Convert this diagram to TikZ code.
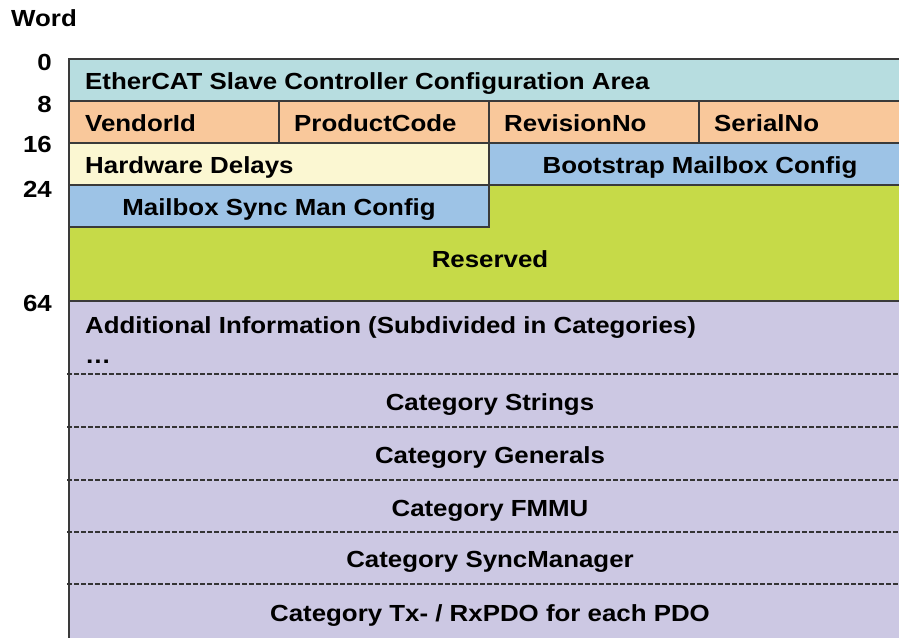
\documentclass[tikz,border=0pt]{standalone}
\usepackage{fontspec}
\setmainfont{Liberation Sans}[FakeStretch=1.11]
\usetikzlibrary{positioning}
\definecolor{edgeGrey}{HTML}{3a3a3a}
\definecolor{escFill}{HTML}{B7DDE0}
\definecolor{idFill}{HTML}{F9C89B}
\definecolor{delayFill}{HTML}{FBF7D2}
\definecolor{mbxFill}{HTML}{9DC3E6}
\definecolor{resFill}{HTML}{C6DA48}
\definecolor{catFill}{HTML}{CCC8E3}
\def\boxL{69}
\def\boxR{911}
\def\boxMid{489}

\begin{document}
\begin{tikzpicture}[
    x=1pt, y=-1pt,
    every node/.style={font=\fontsize{23.3}{30}\selectfont\bfseries, inner sep=0pt},
    cell/.style={draw=edgeGrey, line width=1.5pt},
    sep/.style={draw=edgeGrey!90!black, line width=1.4pt, dash pattern=on 4.5pt off 2.5pt},
    wordlbl/.style={anchor=base east},
    lefttxt/.style={anchor=base west},
    midtxt/.style={anchor=base},
    ]
\useasboundingbox (0,0) rectangle (899,637);
\clip (0,0) rectangle (899,637);

% ====================================================================
% Fills
% ====================================================================
\fill[escFill]   (\boxL,59)    rectangle (\boxR,101);
\fill[idFill]    (\boxL,101)   rectangle (\boxR,143);
\fill[delayFill] (\boxL,143)   rectangle (\boxMid,185);
\fill[mbxFill]   (\boxMid,143) rectangle (\boxR,185);
\fill[resFill]   (\boxL,185)   rectangle (\boxR,301);
\fill[mbxFill]   (\boxL,185)   rectangle (\boxMid,227);
\fill[catFill]   (\boxL,301)   rectangle (\boxR,650);

% ====================================================================
% Borders
% ====================================================================
\draw[cell] (\boxR,59) -- (\boxL,59) -- (\boxL,650);
\foreach \y in {101,143,185,301}
  \draw[cell] (\boxL,\y) -- (\boxR,\y);
\foreach \x in {279,489,699}
  \draw[cell] (\x,101) -- (\x,143);
\draw[cell] (\boxMid,143) -- (\boxMid,227) -- (\boxL,227);

% category separators
\foreach \y in {374,427,480,532,584}
  \draw[sep] (67,\y) -- (\boxR,\y);

% ====================================================================
% Word offsets
% ====================================================================
\node[lefttxt] (word) at (11,27) {Word};
\node[wordlbl] (w0)  at (52,70)  {0};
\node[wordlbl] (w8)  at (52,112) {8};
\node[wordlbl] (w16) at (52,152) {16};
\node[wordlbl] (w24) at (52,197) {24};
\node[wordlbl] (w64) at (52,311) {64};

% ====================================================================
% Header area
% ====================================================================
\node[lefttxt] (esc) at (85,89) {EtherCAT Slave Controller Configuration Area};
\node[lefttxt] (vendor)   at (85,131)  {VendorId};
\node[lefttxt] (product)  at (294,131) {ProductCode};
\node[lefttxt] (revision) at (504,131) {RevisionNo};
\node[lefttxt] (serial)   at (714,131) {SerialNo};
\node[lefttxt] (hwdelay)  at (85,173)  {Hardware Delays};
\node[midtxt]  (bootmbx)  at ({(\boxMid+\boxR)/2},173) {Bootstrap Mailbox Config};
\node[midtxt]  (syncmbx)  at ({(\boxL+\boxMid)/2},215) {Mailbox Sync Man Config};
\node[midtxt]  (reserved) at ({(\boxL+\boxR)/2},267)   {Reserved};

% ====================================================================
% Categories
% ====================================================================
\node[lefttxt] (addinfo) at (85,333) {Additional Information (Subdivided in Categories)};
\node[lefttxt] (more)    at (85,363) {…};
\foreach \y/\nm/\txt in {410/catStr/{Category Strings},
                         463/catGen/{Category Generals},
                         516/catFmmu/{Category FMMU},
                         567/catSm/{Category SyncManager},
                         621/catPdo/{Category Tx- / RxPDO for each PDO}}
  \node[midtxt] (\nm) at ({(\boxL+\boxR)/2},\y) {\txt};

\end{tikzpicture}
\end{document}
